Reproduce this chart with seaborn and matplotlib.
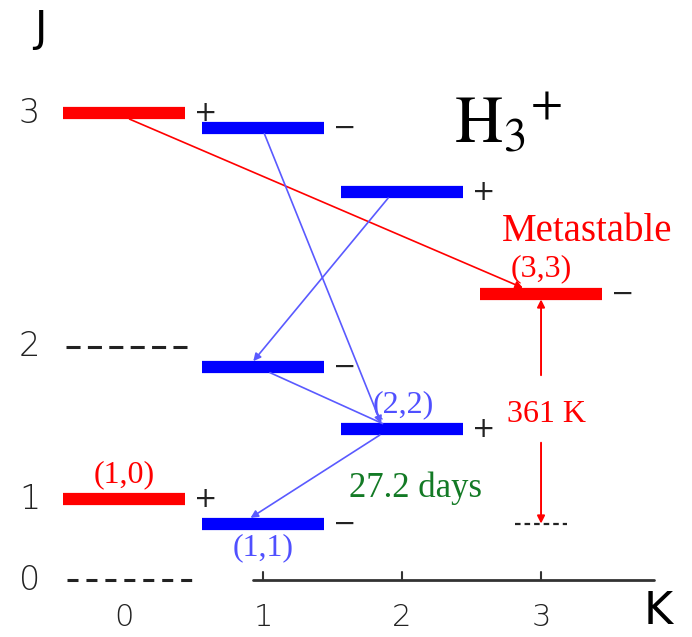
import pandas as pd
import matplotlib.pyplot as plt
import seaborn as sns

sns.set_theme(style="white")
plt.rcParams['font.family'] = ['DejaVu Sans']
plt.rcParams['mathtext.fontset'] = 'stix'

# H3+ rotational levels: J, K, energy above (1,1) in kelvin, parity
level_J = [3, 3, 3, 3, 2, 2, 1, 1]
level_K = [0, 1, 2, 3, 1, 2, 0, 1]
level_E = [644, 621, 520, 361, 246, 148, 38, 0]
parity = ['+', '\u2212', '+', '\u2212', '\u2212', '+', '+', '\u2212']

# decays between levels, given as (J, K) -> (J, K), and whether a head is drawn
transitions = [((3, 0), (3, 3)), ((3, 1), (2, 2)), ((3, 2), (2, 1)),
               ((2, 1), (2, 2)), ((2, 2), (1, 1))]
has_head = [True, True, True, False, True]

labelled = [(3, 3), (2, 2), (1, 1), (1, 0)]

j_labels = ['0', '1', '2', '3']
j_label_E = [-90, 38, 278, 644]
k_ticks = [0, 1, 2, 3]

gap_text = "361 K"
lifetime = "27.2 days"

RED = '#ff0000'
BLUE = '#0000ff'
half = 0.44
bar_half_E = 9

# frame: x in K units, y in kelvin
fig = plt.figure(figsize=(6.92, 6.37), dpi=100)
ax = fig.add_axes([0, 0, 1, 1])
ax.set_xlim(-0.892, 4.086)
ax.set_ylim(-178, 822)
ax.axis('off')

rows = []
for j, k, e in zip(level_J, level_K, level_E):
    sp = 'ortho' if k % 3 == 0 else 'para'
    for dx in (-half, half):
        rows.append(dict(K=k + dx, E=e, level=f"{j},{k}", species=sp))
df = pd.DataFrame(rows)
sns.lineplot(data=df, x='K', y='E', hue='species', units='level', estimator=None,
             palette={'ortho': RED, 'para': BLUE}, lw=8.8, solid_capstyle='butt',
             legend=False, ax=ax, zorder=3)

E = {(j, k): e for j, k, e in zip(level_J, level_K, level_E)}

# parity signs
for j, k, e, p in zip(level_J, level_K, level_E, parity):
    ax.text(k + half + 0.06, e, p, fontsize=20, color='#222222', ha='left', va='center',
            family='DejaVu Sans', zorder=4)

# transitions: start / end positions along the bars (in K)
x_from = [0.04, 1.01, 1.90, 1.05, 1.84]
x_to = [2.87, 1.85, 0.93, 1.86, 0.91]
for (a, b), head, x0, x1 in zip(transitions, has_head, x_from, x_to):
    col = RED if a[1] % 3 == 0 else '#5a5aff'
    ax.annotate('', xy=(x1, E[b] + bar_half_E), xytext=(x0, E[a] - bar_half_E),
                arrowprops=dict(arrowstyle='-|>' if head else '-', color=col, lw=1.2,
                                mutation_scale=11, shrinkA=0, shrinkB=0), zorder=5)

# missing levels as dashes
ax.plot([-0.42, 0.45], [278, 278], ls=(0, (4.6, 2.4)), color='#222222', lw=2.2)
ax.plot([-0.41, 0.53], [-89, -89], ls=(0, (3.6, 2.6)), color='#222222', lw=2.2)
ax.plot([2.81, 3.19], [0, 0], ls=(0, (2.5, 1.8)), color='#222222', lw=1.6)

# 361 K gap arrow
ax.annotate('', xy=(3.0, E[(3, 3)] - bar_half_E), xytext=(3.0, 233),
            arrowprops=dict(arrowstyle='-|>', color=RED, lw=1.4, mutation_scale=11,
                            shrinkA=0, shrinkB=0), zorder=5)
ax.annotate('', xy=(3.0, 0), xytext=(3.0, 127),
            arrowprops=dict(arrowstyle='-|>', color=RED, lw=1.4, mutation_scale=11,
                            shrinkA=0, shrinkB=0), zorder=5)
ax.text(3.04, 172, gap_text, color=RED, fontsize=23, family='Liberation Serif',
        ha='center', va='center')

# level labels
label_pos = {(3, 3): (3.0, 400), (2, 2): (2.01, 187), (1, 1): (1.0, -38), (1, 0): (0.0, 77)}
for jk in labelled:
    x, y = label_pos[jk]
    col = RED if jk[1] % 3 == 0 else '#5050ff'
    ax.text(x, y, f"({jk[0]},{jk[1]})", color=col, fontsize=23, family='Liberation Serif',
            ha='center', va='center')

ax.text(3.33, 459, "Metastable", color=RED, fontsize=28, family='Liberation Serif',
        ha='center', va='center')
ax.text(2.1, 56, lifetime, color='#137a25', fontsize=25, family='Liberation Serif',
        ha='center', va='center')
ax.text(2.76, 628, r"$\mathrm{H}_{3}{}^{+}$", color='black', fontsize=48,
        ha='center', va='center')

# J axis labels
for lab, e in zip(j_labels, j_label_E):
    ax.text(-0.68, e, lab, fontsize=24, color='#222222', ha='center', va='center',
            fontweight='light')
ax.text(-0.6, 776, "J", fontsize=30, color='black', ha='center', va='center')

# K axis
ax.plot([0.93, 3.81], [-89, -89], color='#333333', lw=2)
for k in k_ticks[1:]:
    ax.plot([k, k], [-89, -76], color='#333333', lw=1.5)
for k in k_ticks:
    ax.text(k, -147, str(k), fontsize=22, color='#222222', ha='center', va='center',
            fontweight='light')
ax.text(3.84, -138, "K", fontsize=32, color='black', ha='center', va='center')

fig.savefig("out.png", dpi=100, facecolor='white')
